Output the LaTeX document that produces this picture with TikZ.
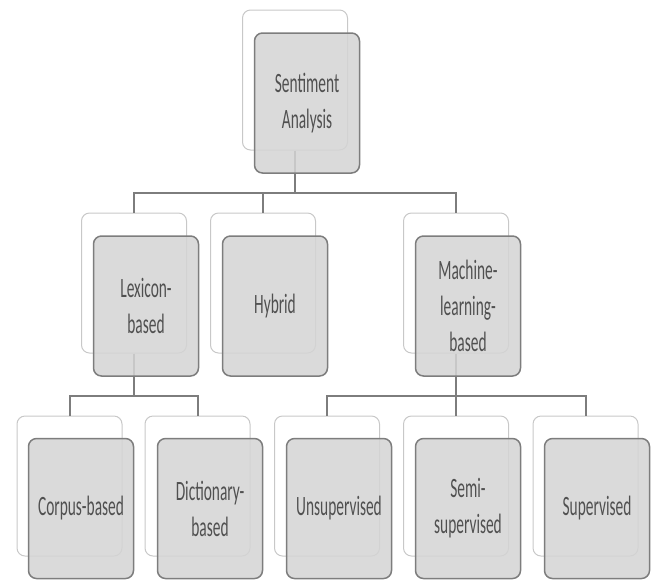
\documentclass[tikz,border=0pt]{standalone}
\usepackage{fontspec}
\setmainfont[FakeStretch=0.55]{Carlito}
\usetikzlibrary{calc}
\definecolor{boxgrey}{RGB}{212,212,212}
\definecolor{edgegrey}{RGB}{125,125,125}
\definecolor{ghostgrey}{RGB}{200,200,200}
\definecolor{txtgrey}{RGB}{80,80,80}

\begin{document}
\begin{tikzpicture}[x=0.5pt,y=-0.5pt,
  ghost/.style={draw=ghostgrey,line width=0.5pt,fill=white,rounded corners=4pt,
    minimum width=52.5pt,minimum height=70pt,inner sep=0pt},
  card/.style={draw=edgegrey,line width=0.75pt,fill=boxgrey,fill opacity=0.85,
    text opacity=1,rounded corners=4pt,minimum width=52.5pt,minimum height=70pt,
    inner sep=2pt,align=center,text=txtgrey,font=\fontsize{14}{18}\selectfont},
  link/.style={draw=edgegrey,line width=1pt}]
\useasboundingbox (0,0) rectangle (656,579);

\draw (295,80) node[ghost] (sab) {};
\draw (134,283) node[ghost] (lexb) {};
\draw (263,283) node[ghost] (hybb) {};
\draw (456,283) node[ghost] (mlb) {};
\draw (69.5,486) node[ghost] (corb) {};
\draw (197.5,486) node[ghost] (dicb) {};
\draw (327,486) node[ghost] (unsb) {};
\draw (456,486) node[ghost] (semb) {};
\draw (585.5,486) node[ghost] (supb) {};

\coordinate (j1) at (295,193);
\coordinate (j2) at (134,396);
\coordinate (j3) at (456,396);
\draw[link] (sab.south) -- (j1);
\draw[link] (lexb.north) |- (j1);
\draw[link] (hybb.north) |- (j1);
\draw[link] (mlb.north) |- (j1);
\draw[link] (lexb.south) -- (j2);
\draw[link] (corb.north) |- (j2);
\draw[link] (dicb.north) |- (j2);
\draw[link] (mlb.south) -- (j3);
\draw[link] (unsb.north) |- (j3);
\draw[link] (semb.north) -- (j3);
\draw[link] (supb.north) |- (j3);

\draw (307,103) node[card] (sa) {Sentiment\\Analysis};
\draw (146,306) node[card] (lex) {Lexicon-\\based};
\draw (275,306) node[card] (hyb) {Hybrid};
\draw (468,306) node[card] (ml) {Machine-\\learning-\\based};
\draw (81,508.5) node[card] (cor) {Corpus-based};
\draw (210,508.5) node[card] (dic) {Dictionary-\\based};
\draw (339,508.5) node[card] (uns) {Unsupervised};
\draw (468,508.5) node[card] (sem) {Semi-\\supervised};
\draw (597,508.5) node[card] (sup) {Supervised};
\end{tikzpicture}
\end{document}
